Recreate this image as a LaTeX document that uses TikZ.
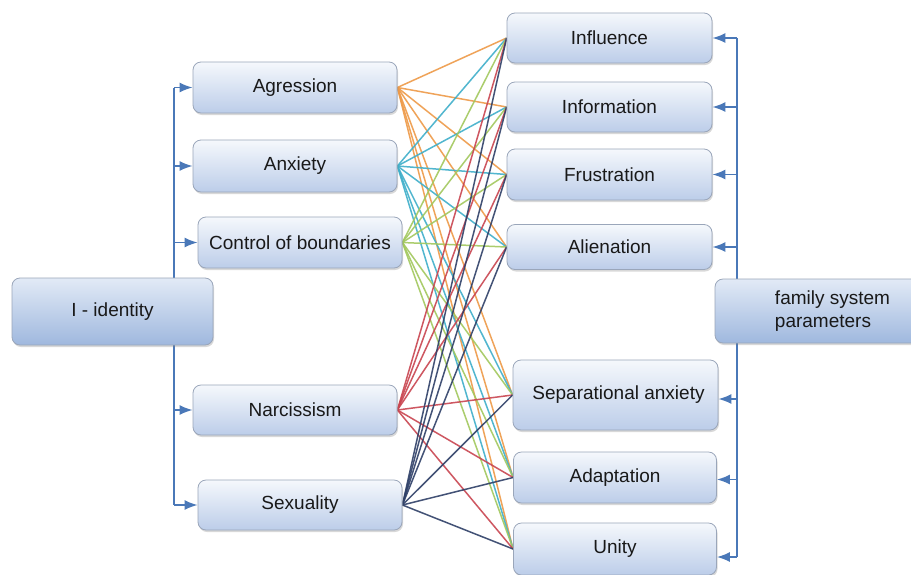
\documentclass[tikz,border=0pt]{standalone}
\usepackage{fontspec}
\setmainfont{Liberation Sans}
\usetikzlibrary{arrows.meta,shadows,backgrounds}
\definecolor{corange}{HTML}{EE9A48}
\definecolor{cteal}{HTML}{3FAFCA}
\definecolor{cgreen}{HTML}{A2C85E}
\definecolor{cred}{HTML}{C94550}
\definecolor{cnavy}{HTML}{2F4068}
\definecolor{cblue}{HTML}{4A78B8}
\definecolor{boxline}{HTML}{9AA6BA}
\definecolor{boxtop}{HTML}{F5F8FC}
\definecolor{boxbot}{HTML}{BCCDE9}
\definecolor{bigtop}{HTML}{E2EAF6}
\definecolor{bigbot}{HTML}{9FB8DE}
\begin{document}
\begin{tikzpicture}[x=1pt,y=-1pt,
  box/.style={draw=boxline, line width=0.8pt, rounded corners=8pt,
    top color=boxtop, bottom color=boxbot,
    drop shadow={shadow xshift=1pt, shadow yshift=-2pt, opacity=0.3, fill=gray},
    font=\fontsize{19}{23}\selectfont, text=black!90, inner sep=2pt},
  bigbox/.style={box, top color=bigtop, bottom color=bigbot},
  bl/.style={cblue, line width=1.7pt},
  arr/.style={bl, -{Latex[length=13pt,width=10pt]}},
  link/.style={line width=1.5pt, opacity=0.9}]
\clip (0,0) rectangle (911,574);
\useasboundingbox (0,0) rectangle (911,574);
% nodes
\node[bigbox, minimum width=201pt, minimum height=67pt] (id) at (112.5,311.5) {I - identity};
\node[box, minimum width=204pt, minimum height=51pt] (agr) at (295,87.5) {Agression};
\node[box, minimum width=204pt, minimum height=52pt] (anx) at (295,166) {Anxiety};
\node[box, minimum width=204pt, minimum height=51pt] (ctl) at (300,242.5) {Control of boundaries};
\node[box, minimum width=204pt, minimum height=50pt] (nar) at (295,410) {Narcissism};
\node[box, minimum width=204pt, minimum height=50pt] (sex) at (300,505) {Sexuality};
\node[box, minimum width=205pt, minimum height=50pt] (inf) at (609.5,38) {Influence};
\node[box, minimum width=205pt, minimum height=50pt] (infm) at (609.5,107) {Information};
\node[box, minimum width=205pt, minimum height=51pt] (fru) at (609.5,174.5) {Frustration};
\node[box, minimum width=205pt, minimum height=45pt] (ali) at (609.5,247) {Alienation};
\node[box, minimum width=205pt, minimum height=70pt] (sep) at (615.5,395) {\hspace{6pt}Separational anxiety};
\node[box, minimum width=203pt, minimum height=51pt] (ada) at (615,477.5) {Adaptation};
\node[box, minimum width=203pt, minimum height=52pt] (uni) at (615,549) {Unity};
\node[bigbox, minimum width=235pt, minimum height=64pt, align=left] (fam) at (832.5,311) {family system\\parameters};
\coordinate (lb) at (174,0);
\coordinate (rb) at (737,0);
\coordinate (sepA) at ([yshift=-4pt]sep.east);
\coordinate (adaA) at ([yshift=-2pt]ada.east);
\coordinate (uniA) at ([yshift=-8pt]uni.east);
\begin{scope}[on background layer]
  \fill[white] (0,0) rectangle (911,574);
  % colored links
  \foreach \s/\c in {agr/corange, anx/cteal, ctl/cgreen, nar/cred, sex/cnavy}{
    \foreach \t in {inf,infm,fru,ali,sep,ada,uni}{
      \draw[link, \c] (\s.east) -- (\t.west);
    }
  }
  % left trunk
  \draw[bl] (agr.west -| lb) -- (sex.west -| lb);
  % right trunk
  \draw[bl] (inf.east -| rb) -- (uniA -| rb);
\end{scope}
% left arrows
\foreach \n in {agr,anx,ctl,nar,sex}{
  \draw[arr] (\n.west -| lb) -- (\n.west);
}
% right arrows
\foreach \n in {inf,infm,fru,ali}{
  \draw[arr] (\n.east -| rb) -- (\n.east);
}
\draw[arr] (sepA -| rb) -- (sepA);
\draw[arr] (adaA -| rb) -- (adaA);
\draw[arr] (uniA -| rb) -- (uniA);
\end{tikzpicture}
\end{document}
